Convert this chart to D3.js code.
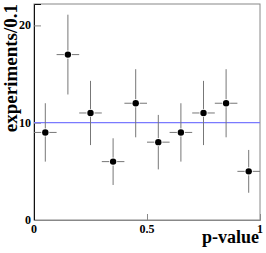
<!DOCTYPE html>
<html>
<head>
<meta charset="utf-8">
<script src="https://cdn.jsdelivr.net/npm/d3@7"></script>
<style>
body { margin: 0; background: #fff; }
text { font-family: "Liberation Serif", "DejaVu Serif", serif; font-weight: bold; }
</style>
</head>
<body>
<div id="chart"></div>
<script>
// bin centres, counts and errors
var binCenters = [0.05, 0.15, 0.25, 0.35, 0.45, 0.55, 0.65, 0.75, 0.85, 0.95];
var counts = [9, 17, 11, 6, 12, 8, 9, 11, 12, 5];
var errors = [3.0, 4.1, 3.3, 2.4, 3.5, 2.8, 3.0, 3.3, 3.5, 2.2];
var binWidth = 0.1;
var expected = 10;
var xTicks = [0, 0.5, 1];
var yTicks = [0, 10, 20];

var W = 266, H = 253;
var m = {left: 34, right: 6, top: 4, bottom: 33};

var svg = d3.select("#chart").append("svg")
	.attr("width", W)
	.attr("height", H);

var x = d3.scaleLinear().domain([0, 1]).range([m.left, W - m.right]);
var y = d3.scaleLinear().domain([0, 22.2]).range([H - m.bottom, m.top]);

// frame
svg.append("rect")
	.attr("x", x(0)).attr("y", y(22.2))
	.attr("width", x(1) - x(0)).attr("height", y(0) - y(22.2))
	.attr("fill", "none")
	.attr("stroke", "#888")
	.attr("stroke-width", 1);

// axes (ticks pointing inward)
var xAxis = d3.axisTop(x).tickValues(xTicks).tickSize(6).tickFormat("");
svg.append("g")
	.attr("transform", "translate(0," + y(0) + ")")
	.call(xAxis)
	.call(function(g){
		g.select(".domain").attr("stroke", "#888");
		g.selectAll(".tick line").attr("stroke", "#888");
	});

var yAxis = d3.axisRight(y).tickValues(yTicks).tickSize(7).tickFormat("");
svg.append("g")
	.attr("transform", "translate(" + x(0) + ",0)")
	.call(yAxis)
	.call(function(g){
		g.select(".domain").attr("stroke", "#111");
		g.selectAll(".tick line").attr("stroke", "#888");
	});

// tick labels
svg.selectAll(".ylab").data(yTicks).enter().append("text")
	.attr("class", "ylab")
	.attr("x", x(0) - 3)
	.attr("y", function(d){ return y(d) + 4; })
	.attr("text-anchor", "end")
	.attr("font-size", 12)
	.text(function(d){ return d; });

svg.selectAll(".xlab").data(xTicks).enter().append("text")
	.attr("class", "xlab")
	.attr("x", function(d){ return x(d); })
	.attr("y", y(0) + 13)
	.attr("text-anchor", "middle")
	.attr("font-size", 12)
	.text(function(d){ return d; });

// axis titles
svg.append("text")
	.attr("x", x(1) - 1)
	.attr("y", H - 10)
	.attr("text-anchor", "end")
	.attr("font-size", 18)
	.text("p-value");

svg.append("text")
	.attr("transform", "translate(" + 17 + "," + m.top + ") rotate(-90)")
	.attr("text-anchor", "end")
	.attr("font-size", 19)
	.text("experiments/0.1");

// expected level
svg.append("line")
	.attr("x1", x(0)).attr("x2", x(1))
	.attr("y1", y(expected)).attr("y2", y(expected))
	.attr("stroke", "#7a7aff")
	.attr("stroke-width", 1.2);

// error bars with a gap around the marker
var gap = 4;
var pts = svg.append("g").selectAll("g").data(binCenters).enter().append("g");
pts.each(function(c, i){
	var g = d3.select(this);
	var cx = x(c), cy = y(counts[i]);
	var lines = [
		[x(c - binWidth / 2), cy, cx - gap, cy],
		[cx + gap, cy, x(c + binWidth / 2), cy],
		[cx, y(counts[i] + errors[i]), cx, cy - gap],
		[cx, cy + gap, cx, y(counts[i] - errors[i])]
	];
	lines.forEach(function(l){
		g.append("line")
			.attr("x1", l[0]).attr("y1", l[1])
			.attr("x2", l[2]).attr("y2", l[3])
			.attr("stroke", "#777")
			.attr("stroke-width", 1);
	});
	g.append("circle")
		.attr("cx", cx).attr("cy", cy)
		.attr("r", 3.2)
		.attr("fill", "#000");
});
</script>
</body>
</html>
